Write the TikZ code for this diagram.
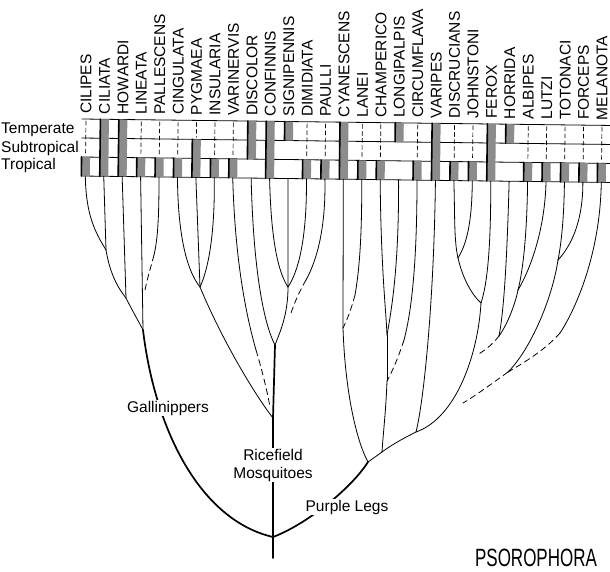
\documentclass[tikz,border=0pt]{standalone}
\usepackage{fontspec}
\setmainfont{Liberation Sans}
\tikzset{
  twig/.style={line width=0.8pt},
  trunk/.style={line width=1.7pt},
  gap/.style={line width=0.7pt,dash pattern=on 4pt off 3pt},
  lost/.style={line width=0.8pt,dash pattern=on 6pt off 4pt},
  bar/.style={fill=black!45},
  zone/.style={anchor=west,inner sep=0pt,font=\fontsize{15.5}{17}\selectfont},
  clade/.style={fill=white,inner sep=1pt,align=center,font=\fontsize{15.5}{18}\selectfont},
}
\begin{document}
\begin{tikzpicture}[x=1pt,y=-1pt,line cap=round]
\useasboundingbox (0,0) rectangle (610,571);
\node[zone] (temp) at (1,130) {Temperate};
\node[zone] (subt) at (1,148) {Subtropical};
\node[zone] (trop) at (1,165) {Tropical};
\begin{scope}[rotate around={-0.7:(82,119)}]
\foreach \y in {119,138,157,176} \draw[twig] (82,\y)--(614,\y);
\foreach \nm/\ra/\rb [count=\i] in {CILIPES/3/3,CILIATA/1/3,HOWARDI/1/3,LINEATA/3/3,PALLESCENS/3/3,
  CINGULATA/3/3,PYGMAEA/2/3,INSULARIA/3/3,VARINERVIS/3/3,DISCOLOR/1/2,CONFINNIS/1/3,SIGNIPENNIS/1/1,
  DIMIDIATA/3/3,PAULLI/3/3,CYANESCENS/1/3,LANEI/3/3,CHAMPERICO/3/3,LONGIPALPIS/1/1,CIRCUMFLAVA/3/3,
  VARIPES/1/3,DISCRUCIANS/3/3,JOHNSTONI/3/3,FEROX/1/3,HORRIDA/1/1,ALBIPES/3/3,LUTZI/3/3,
  TOTONACI/3/3,FORCEPS/3/3,MELANOTA/3/3}{
  \pgfmathsetmacro\xx{86+18.43*(\i-1)}
  \pgfmathsetmacro\ya{119+19*(\ra-1)}
  \pgfmathsetmacro\yb{119+19*\rb}
  \fill[bar] (\xx-4,\ya) rectangle (\xx+4.5,\yb);
  \draw[line width=1.6pt] (\xx-4,\ya)--(\xx-4,\yb);
  \ifnum\ra>1 \draw[gap] (\xx,121)--(\xx,\ya-2); \fi
  \node[rotate=90,anchor=west,inner sep=0pt,font=\fontsize{15.5}{16}\selectfont] (n\i) at (\xx,114) {\nm};
  \coordinate (t\i) at (\xx,176);
}
\end{scope}
\coordinate (A) at (106,250);
\coordinate (B) at (126,298);
\coordinate (C) at (143,330);
\coordinate (d5) at (154,255);
\coordinate (e5) at (145,290);
\coordinate (D) at (200,287);
\coordinate (d9) at (256,350);
\coordinate (e9) at (270,407);
\coordinate (E) at (275,345);
\coordinate (F) at (288,287);
\coordinate (d14) at (306,280);
\coordinate (e14) at (291,313);
\coordinate (RN) at (273,418);
\coordinate (root) at (273,537);
\coordinate (foot) at (273,558);
\coordinate (Q) at (343,328);
\coordinate (d16) at (355,295);
\coordinate (G) at (387,335);
\coordinate (G2) at (387,381);
\coordinate (d19) at (404,340);
\coordinate (I) at (458,258);
\coordinate (H) at (481,303);
\coordinate (J) at (518,290);
\coordinate (N) at (499,336);
\coordinate (eN) at (477,355);
\coordinate (K) at (558,260);
\coordinate (d29) at (560,333);
\coordinate (M) at (508,372);
\coordinate (eM) at (463,403);
\coordinate (L) at (416,432);
\coordinate (P) at (382,452);
\coordinate (R0) at (368,462);

\draw[twig] (t1) .. controls (86,215) and (95,232) .. (A);
\draw[twig] (t2) -- (A);
\draw[twig] (A) .. controls (110,274) and (118,288) .. (B);
\draw[twig] (t3) -- (B);
\draw[twig] (B) .. controls (133,312) and (139,322) .. (C);
\draw[twig] (t4) -- (C);
\draw[twig] (t5) .. controls (159,215) and (158,238) .. (d5);
\draw[lost] (d5) .. controls (150,270) and (147,280) .. (e5);

\draw[twig] (t6) .. controls (178,240) and (188,272) .. (D);
\draw[twig] (t7) -- (D);
\draw[twig] (t8) .. controls (215,240) and (207,272) .. (D);
\draw[twig] (D) .. controls (222,340) and (255,395) .. (RN);
\draw[twig] (t9) .. controls (235,260) and (246,315) .. (d9);
\draw[lost] (d9) .. controls (262,370) and (267,390) .. (e9);
\draw[twig] (t10) .. controls (253,260) and (262,320) .. (E);
\draw[twig] (t11) .. controls (271,240) and (278,272) .. (F);
\draw[twig] (t12) -- (F);
\draw[twig] (t13) .. controls (307,240) and (298,272) .. (F);
\draw[twig] (F) .. controls (288,315) and (280,332) .. (E);
\draw[twig] (t14) .. controls (326,230) and (316,262) .. (d14);
\draw[lost] (d14) .. controls (299,292) and (294,304) .. (e14);
\draw[trunk] (E) -- (RN) -- (root) -- (foot);

\draw[twig] (t15) -- (Q);
\draw[twig] (t16) .. controls (362,240) and (359,272) .. (d16);
\draw[lost] (d16) .. controls (351,310) and (347,320) .. (Q);
\draw[twig] (Q) .. controls (345,390) and (356,440) .. (R0);
\draw[twig] (t17) .. controls (381,270) and (386,310) .. (G);
\draw[twig] (t18) .. controls (399,270) and (391,312) .. (G);
\draw[twig] (G) -- (G2);
\draw[twig] (t19) .. controls (417,260) and (412,310) .. (d19);
\draw[lost] (d19) .. controls (398,358) and (393,370) .. (G2);
\draw[twig] (G2) .. controls (386,410) and (383,435) .. (P);
\draw[twig] (t20) .. controls (434,300) and (424,400) .. (L);
\draw[twig] (t21) .. controls (455,220) and (454,240) .. (I);
\draw[twig] (t22) .. controls (472,225) and (466,245) .. (I);
\draw[twig] (I) .. controls (463,280) and (473,296) .. (H);
\draw[twig] (t23) .. controls (491,250) and (487,285) .. (H);
\draw[twig] (H) .. controls (478,355) and (456,418) .. (L);
\draw[twig] (L) .. controls (400,440) and (390,446) .. (P);
\draw[twig] (P) -- (R0);
\draw[twig] (t24) .. controls (507,260) and (504,310) .. (N);
\draw[twig] (t25) .. controls (527,240) and (522,275) .. (J);
\draw[twig] (t26) .. controls (545,230) and (530,270) .. (J);
\draw[twig] (J) .. controls (515,305) and (507,325) .. (N);
\draw[lost] (N) .. controls (492,345) and (484,351) .. (eN);
\draw[twig] (t27) .. controls (564,220) and (561,245) .. (K);
\draw[twig] (t28) .. controls (583,220) and (572,245) .. (K);
\draw[twig] (K) .. controls (552,300) and (530,350) .. (M);
\draw[twig] (t29) .. controls (600,260) and (572,315) .. (d29);
\draw[lost] (d29) .. controls (545,350) and (525,362) .. (M);
\draw[lost] (M) .. controls (490,385) and (475,396) .. (eM);

\draw[trunk] (C) .. controls (155,430) and (200,520) .. (root);
\draw[trunk] (root) .. controls (305,525) and (350,490) .. (R0);

\node[clade] (gall) at (168,408) {Gallinippers};
\node[clade] (rice) at (273,465) {Ricefield\\Mosquitoes};
\node[clade] (purp) at (347,507) {Purple Legs};
\node[xscale=0.68,transform shape,inner sep=0pt,font=\fontsize{25}{25}\selectfont] (genus) at (536,558) {PSOROPHORA};
\end{tikzpicture}
\end{document}
